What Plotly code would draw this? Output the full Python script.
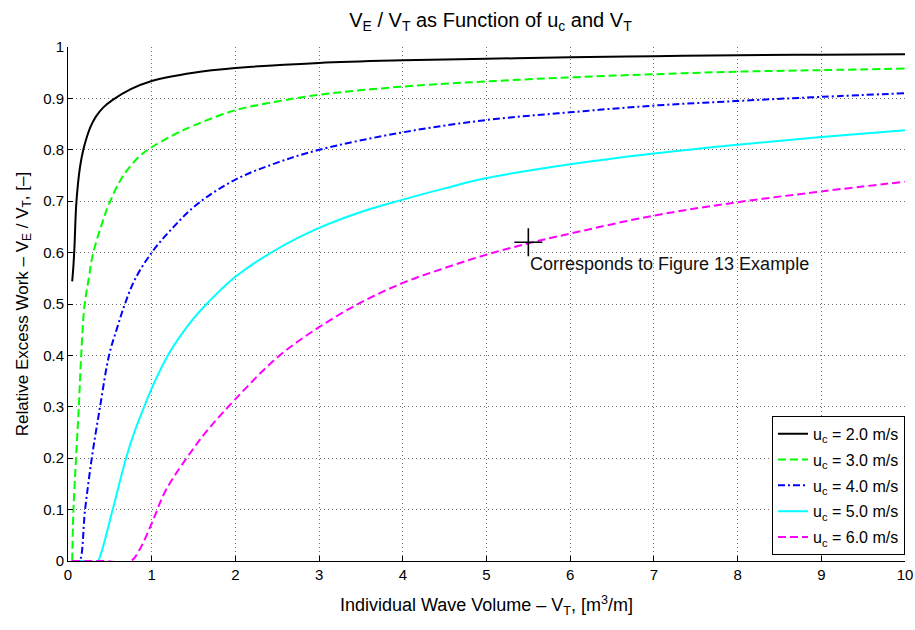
import plotly.graph_objects as go

# Individual wave volume V_T [m^3/m] and relative excess work V_E/V_T for each u_c
vt_u20 = [0.05, 0.065, 0.077, 0.097, 0.12, 0.145, 0.18, 0.216, 0.27, 0.335, 0.42, 0.534, 0.75, 1.0, 1.5, 2.0, 3.0, 4.0, 5.0, 6.0, 7.0, 8.0, 9.0, 10.0]
ve_u20 = [0.544, 0.575, 0.610, 0.690, 0.735, 0.768, 0.798, 0.820, 0.845, 0.865, 0.882, 0.897, 0.918, 0.934, 0.950, 0.959, 0.969, 0.974, 0.977, 0.980, 0.982, 0.984, 0.985, 0.986]

vt_u30 = [0.05, 0.065, 0.097, 0.129, 0.157, 0.196, 0.25, 0.296, 0.395, 0.494, 0.653, 0.851, 1.0, 1.25, 1.5, 2.0, 2.5, 3.0, 4.0, 5.0, 6.0, 7.0, 8.0, 9.0, 10.0]
ve_u30 = [0.0, 0.099, 0.203, 0.300, 0.398, 0.495, 0.552, 0.596, 0.651, 0.696, 0.748, 0.787, 0.805, 0.828, 0.847, 0.877, 0.894, 0.907, 0.923, 0.933, 0.941, 0.947, 0.952, 0.955, 0.958]

vt_u40 = [0.05, 0.1, 0.137, 0.204, 0.284, 0.383, 0.49, 0.59, 0.68, 0.8, 1.0, 1.25, 1.55, 2.0, 2.5, 3.0, 4.0, 5.0, 6.0, 7.0, 8.0, 9.0, 10.0]
ve_u40 = [0.0, 0.0, 0.0, 0.100, 0.200, 0.300, 0.400, 0.455, 0.500, 0.548, 0.600, 0.648, 0.695, 0.742, 0.775, 0.800, 0.834, 0.858, 0.873, 0.886, 0.895, 0.903, 0.910]

vt_u50 = [0.05, 0.2, 0.355, 0.395, 0.534, 0.69, 0.8, 0.91, 1.0, 1.208, 1.486, 1.685, 2.0, 2.5, 3.0, 3.5, 4.0, 4.5, 5.0, 6.0, 7.0, 8.0, 9.0, 10.0]
ve_u50 = [0.0, 0.0, 0.0, 0.015, 0.100, 0.198, 0.254, 0.300, 0.336, 0.404, 0.469, 0.505, 0.553, 0.607, 0.648, 0.679, 0.703, 0.725, 0.745, 0.772, 0.793, 0.810, 0.825, 0.838]

vt_u60 = [0.05, 0.4, 0.75, 0.851, 1.0, 1.17, 1.486, 1.685, 2.0, 2.5, 3.0, 3.5, 4.0, 4.5, 5.0, 5.5, 6.0, 7.0, 8.0, 9.0, 10.0]
ve_u60 = [0.0, 0.0, 0.0, 0.021, 0.073, 0.138, 0.216, 0.258, 0.315, 0.396, 0.455, 0.503, 0.541, 0.570, 0.596, 0.618, 0.637, 0.672, 0.698, 0.719, 0.738]

# Worked example point
example_vt = [5.5]
example_ratio = [0.62]

x_ticks = [0, 1, 2, 3, 4, 5, 6, 7, 8, 9, 10]
y_ticks = [0, 0.1, 0.2, 0.3, 0.4, 0.5, 0.6, 0.7, 0.8, 0.9, 1]
y_tick_text = ["0", "0.1", "0.2", "0.3", "0.4", "0.5", "0.6", "0.7", "0.8", "0.9", "1"]

FONT = "Liberation Sans, Arial, Helvetica, sans-serif"

series = [
    (vt_u20, ve_u20, "u<sub>c</sub> = 2.0 m/s", "#000000", "solid"),
    (vt_u30, ve_u30, "u<sub>c</sub> = 3.0 m/s", "#00ff00", "8px,4px"),
    (vt_u40, ve_u40, "u<sub>c</sub> = 4.0 m/s", "#0000ff", "7px,3px,2px,3px"),
    (vt_u50, ve_u50, "u<sub>c</sub> = 5.0 m/s", "#00ffff", "solid"),
    (vt_u60, ve_u60, "u<sub>c</sub> = 6.0 m/s", "#ff00ff", "8px,4px"),
]

fig = go.Figure()
for i, (xs, ys, name, color, dash) in enumerate(series):
    fig.add_trace(go.Scatter(
        x=xs, y=ys, mode="lines", name=name, legendgroup=f"g{i}",
        line=dict(color=color, width=2, dash=dash, shape="spline", smoothing=1.0),
    ))

fig.add_trace(go.Scatter(
    x=example_vt, y=example_ratio, mode="markers", showlegend=False,
    marker=dict(symbol="cross-thin", size=20, line=dict(color="black", width=1.6)),
))

fig.add_annotation(
    x=example_vt[0], y=example_ratio[0], xref="x", yref="y",
    text="Corresponds to Figure 13 Example", showarrow=False,
    xanchor="left", yanchor="top", xshift=0, yshift=-10,
    font=dict(family=FONT, size=18, color="#111"),
)

axis_common = dict(
    showline=True, linecolor="black", linewidth=1,
    ticks="inside", ticklen=5, tickcolor="black",
    showgrid=True, gridcolor="#707070", griddash="1px,3px", gridwidth=1,
    zeroline=False,
    tickfont=dict(family=FONT, size=15, color="black"),
    ticklabeloverflow="allow",
    automargin=False,
)

fig.update_xaxes(
    range=[0, 10], tickvals=x_ticks, ticktext=[str(v) for v in x_ticks],
    title=dict(text="Individual Wave Volume – V<sub>T</sub>, [m<sup>3</sup>/m]",
               font=dict(family=FONT, size=18, color="black"), standoff=16),
    **axis_common,
)
fig.update_yaxes(
    range=[0, 1], tickvals=y_ticks, ticktext=y_tick_text,
    title=dict(text="Relative Excess Work – V<sub>E</sub> / V<sub>T</sub>, [–]",
               font=dict(family=FONT, size=17, color="black"), standoff=10),
    **axis_common,
)

fig.update_layout(
    width=915, height=630,
    margin=dict(l=68, r=10, t=47, b=69, autoexpand=False),
    paper_bgcolor="white", plot_bgcolor="white",
    title=dict(
        text="V<sub>E</sub> / V<sub>T</sub> as Function of u<sub>c</sub> and V<sub>T</sub>",
        x=0.536, xanchor="center", y=0.968, yanchor="middle",
        font=dict(family=FONT, size=20, color="black"),
    ),
    legend=dict(
        x=1.0, xanchor="right", y=0.012, yanchor="bottom",
        bgcolor="white", bordercolor="black", borderwidth=1,
        font=dict(family=FONT, size=16, color="black"),
        tracegroupgap=2,
    ),
    showlegend=True,
)

fig.write_html("out.html")
